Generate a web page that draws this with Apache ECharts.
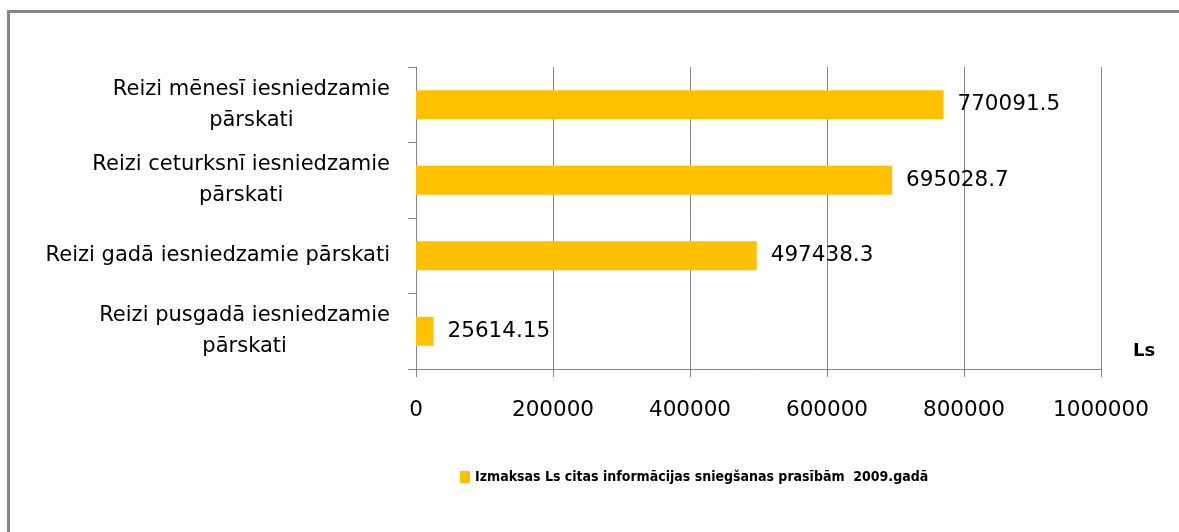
<!DOCTYPE html>
<html>
<head>
<meta charset="utf-8">
<script src="https://cdn.jsdelivr.net/npm/echarts@6/dist/echarts.min.js"></script>
<style>
  html, body { margin: 0; padding: 0; background: #fff; }
  #chart { width: 1179px; height: 532px; }
</style>
</head>
<body>
<div id="chart"></div>
<script>
// bottom-to-top order, as the category axis draws it
const categories = [
  'Reizi pusgadā iesniedzamie\npārskati',
  'Reizi gadā iesniedzamie pārskati',
  'Reizi ceturksnī iesniedzamie\npārskati',
  'Reizi mēnesī iesniedzamie\npārskati'
];
const costs = [25614.15, 497438.3, 695028.7, 770091.5];
const costLabels = ['25614.15', '497438.3', '695028.7', '770091.5'];
const seriesName = 'Izmaksas Ls citas informācijas sniegšanas prasībām  2009.gadā';
const unitLabel = 'Ls';

const grey = '#868686';
const font = 'DejaVu Sans';

const chart = echarts.init(document.getElementById('chart'));
chart.setOption({
  animation: false,
  backgroundColor: '#fff',
  grid: { left: 416, right: 78, top: 67, bottom: 163, containLabel: false },
  xAxis: {
    type: 'value',
    min: 0, max: 1000000, interval: 200000,
    axisLine: { show: true, lineStyle: { color: grey, width: 1 } },
    axisTick: { show: true, length: 8, lineStyle: { color: grey } },
    splitLine: { show: true, lineStyle: { color: grey, width: 1 } },
    axisLabel: {
      color: '#000', fontFamily: font, fontSize: 21.5, margin: 29, lineHeight: 24,
      formatter: v => String(v)
    }
  },
  yAxis: {
    type: 'category',
    data: categories,
    axisLine: { show: true, lineStyle: { color: grey, width: 1 } },
    axisTick: { show: true, length: 8, lineStyle: { color: grey } },
    splitLine: { show: false },
    axisLabel: {
      margin: 26,
      color: '#000',
      fontFamily: font,
      fontSize: 21,
      lineHeight: 31,
      formatter: v => v.split('\n').map(s => '{c|' + s + '}').join('\n'),
      rich: { c: { align: 'center', fontFamily: font, fontSize: 21, lineHeight: 31, color: '#000' } }
    }
  },
  legend: {
    left: 455, top: 465,
    itemWidth: 10, itemHeight: 12,
    icon: 'rect',
    textStyle: {
      fontFamily: '"DejaVu Sans Condensed", "Liberation Sans Narrow", "DejaVu Sans", sans-serif',
      fontWeight: 'bold', fontSize: 14, color: '#000'
    },
    data: [seriesName]
  },
  series: [{
    name: seriesName,
    type: 'bar',
    data: costs,
    barWidth: 29,
    itemStyle: { color: '#FFC000' },
    label: {
      show: true, position: 'right', distance: 14,
      color: '#000', fontFamily: font, fontSize: 21.5,
      formatter: p => costLabels[p.dataIndex]
    }
  }],
  graphic: [
    {
      type: 'rect', silent: true,
      shape: { x: 8.5, y: 11.5, width: 1400, height: 700 },
      style: { fill: 'none', stroke: grey, lineWidth: 3 }
    },
    {
      type: 'text', left: 1133, top: 342,
      style: { text: unitLabel, fontFamily: font, fontWeight: 'bold', fontSize: 18, fill: '#000' }
    }
  ]
});
</script>
</body>
</html>
